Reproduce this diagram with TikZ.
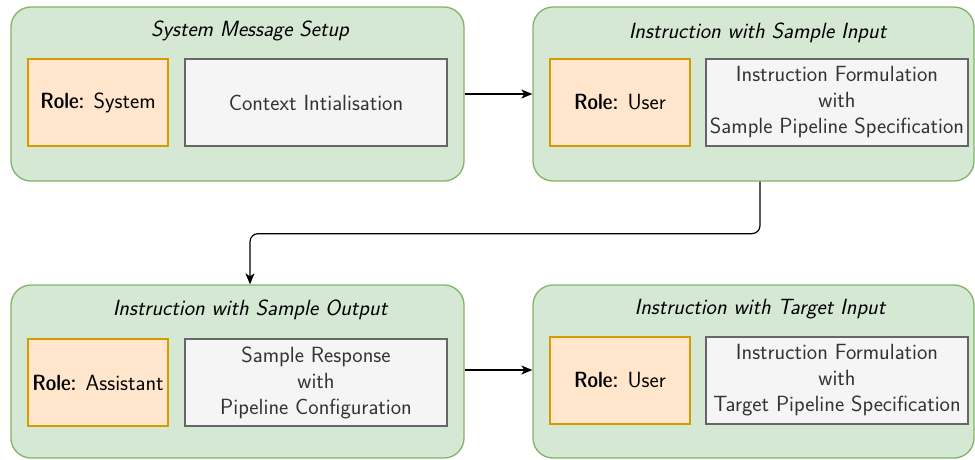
\documentclass[tikz,border=0pt]{standalone}
\usepackage{fontspec}
\usetikzlibrary{arrows.meta}
\newfontfamily\demifont{lmsansdemicond10-regular.otf}
\definecolor{cgreen}{HTML}{82B366}
\definecolor{fgreen}{HTML}{D5E8D4}
\definecolor{corange}{HTML}{D79B00}
\definecolor{forange}{HTML}{FFE6CC}
\definecolor{cgray}{HTML}{666666}
\definecolor{fgray}{HTML}{F5F5F5}
\definecolor{tgray}{HTML}{333333}
\newcommand{\rolelbl}{{\demifont Role:}}
\begin{document}
\begin{tikzpicture}[x=1pt,y=-1pt,
  font=\sffamily\fontsize{22}{26}\selectfont,
  container/.style={draw=cgreen, fill=fgreen, rounded corners=20pt, line width=1.3pt, inner sep=0},
  rolebox/.style={draw=corange, fill=forange, line width=1.2pt, align=center, inner sep=0, minimum width=140pt, minimum height=87pt},
  graybox/.style={draw=cgray, fill=fgray, text=tgray, line width=1.2pt, align=center, inner sep=0, minimum width=262pt, minimum height=87pt},
  titletext/.style={font=\sffamily\itshape\fontsize{22}{26}\selectfont},
  arr/.style={-{Stealth[length=11pt,width=9pt,inset=3pt]}, line width=1.2pt}]
\useasboundingbox (0,0) rectangle (975,459);

% containers
\node[container, minimum width=453pt, minimum height=174pt] (c1) at (237.5,94) {};
\node[container, minimum width=441pt, minimum height=174pt] (c2) at (753.5,94) {};
\node[container, minimum width=453pt, minimum height=173pt] (c3) at (237.5,371.5) {};
\node[container, minimum width=441pt, minimum height=173pt] (c4) at (753.5,371.5) {};

% titles
\node[titletext] (t1) at (250,31) {System Message Setup};
\node[titletext] (t2) at (757.5,33) {Instruction with Sample Input};
\node[titletext] (t3) at (250,310) {Instruction with Sample Output};
\node[titletext] (t4) at (760,309) {Instruction with Target Input};

% inner boxes
\node[rolebox] (r1) at (98,102.5) {\rolelbl{} System};
\node[graybox] (g1) at (316,102.5) {Context Intialisation};
\node[rolebox] (r2) at (620,102.5) {\rolelbl{} User};
\node[graybox] (g2) at (837,102.5) {Instruction Formulation\\with\\Sample Pipeline Specification};
\node[rolebox] (r3) at (98,382.5) {\rolelbl{} Assistant};
\node[graybox] (g3) at (316,382.5) {Sample Response\\with\\Pipeline Configuration};
\node[rolebox] (r4) at (620,380.5) {\rolelbl{} User};
\node[graybox] (g4) at (837,380.5) {Instruction Formulation\\with\\Target Pipeline Specification};

% connectors
\draw[arr] (c1.east) -- (c2.west);
\draw[arr] ([yshift=1.5pt]c3.east) -- ([yshift=1.5pt]c4.west);
\draw[arr, rounded corners=8pt] ([xshift=6.5pt]c2.south) -- ++(0,52) -| ([xshift=12.5pt]c3.north);
\end{tikzpicture}
\end{document}
